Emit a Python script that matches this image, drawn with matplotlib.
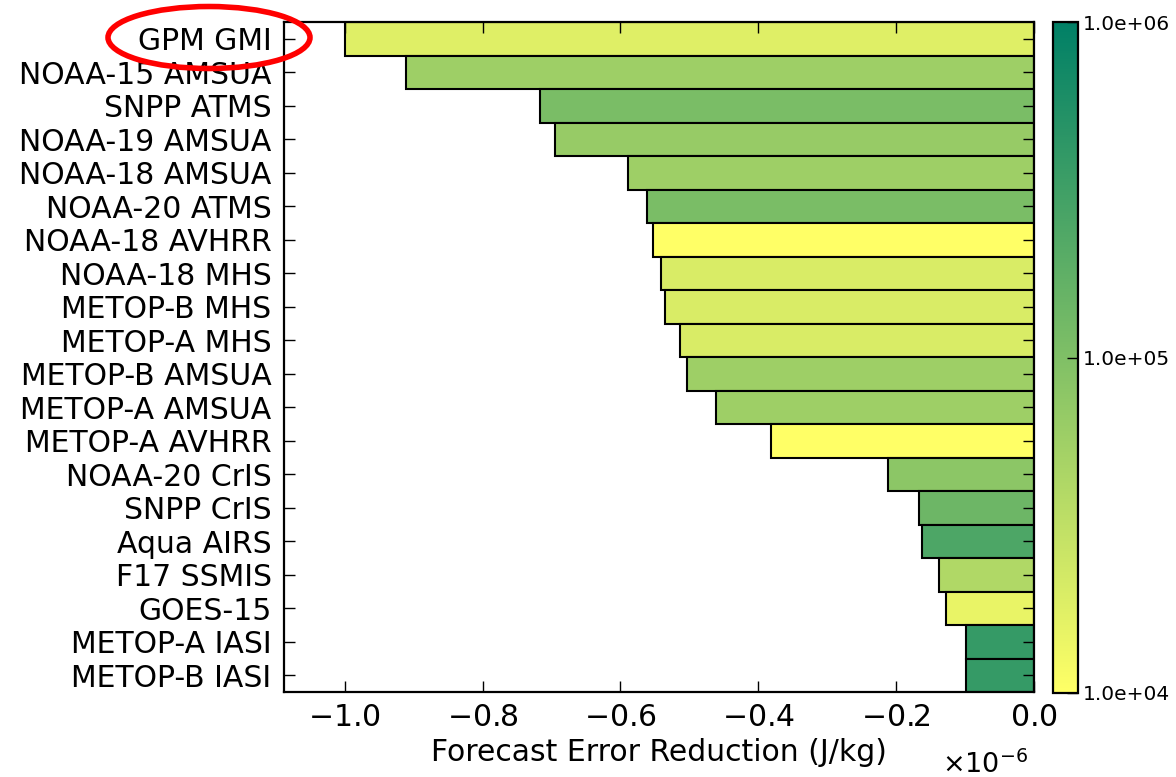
import numpy as np
import matplotlib
matplotlib.use('Agg')
import matplotlib.pyplot as plt
from matplotlib.colors import LogNorm
from matplotlib.patches import Ellipse
import matplotlib.cm as cm

# instruments, top to bottom
names = ['GPM GMI', 'NOAA-15 AMSUA', 'SNPP ATMS', 'NOAA-19 AMSUA', 'NOAA-18 AMSUA',
         'NOAA-20 ATMS', 'NOAA-18 AVHRR', 'NOAA-18 MHS', 'METOP-B MHS', 'METOP-A MHS',
         'METOP-B AMSUA', 'METOP-A AMSUA', 'METOP-A AVHRR', 'NOAA-20 CrIS', 'SNPP CrIS',
         'Aqua AIRS', 'F17 SSMIS', 'GOES-15', 'METOP-A IASI', 'METOP-B IASI']
# forecast error reduction, J/kg (x 1e-6)
fer = [-1.000, -0.911, -0.717, -0.695, -0.589,
       -0.562, -0.552, -0.541, -0.536, -0.514,
       -0.504, -0.462, -0.382, -0.212, -0.167,
       -0.163, -0.138, -0.128, -0.099, -0.099]
# number of observations assimilated (colour)
nobs = [1.8e4, 5.8e4, 1.1e5, 6.5e4, 5.8e4,
        1.1e5, 1.0e4, 2.0e4, 2.0e4, 2.0e4,
        5.8e4, 5.8e4, 1.0e4, 8.0e4, 1.4e5,
        2.5e5, 4.2e4, 1.5e4, 3.8e5, 3.8e5]

vals = np.array(fer) * 1e-6
norm = LogNorm(vmin=1e4, vmax=1e6)
cmap = plt.get_cmap('summer_r')

fig = plt.figure(figsize=(11.76, 7.77), dpi=100)
W, H = 1176., 777.
ax = fig.add_axes([284/W, 1-692/H, 750/W, 670/H])

y = np.arange(len(names))[::-1]
ax.barh(y, vals, height=1.0, align='center', color=cmap(norm(nobs)),
        edgecolor='black', linewidth=1.5)
ax.set_ylim(-0.5, len(names)-0.5)
ax.set_xlim(vals.min()*1.088, 0)
ax.set_yticks(y)
ax.set_yticklabels(names, fontsize=21.5)
ax.set_xticks(np.arange(-1.0, 0.01, 0.2)*1e-6)
ax.tick_params(axis='both', direction='in', top=True, right=True, length=8, width=1, labelsize=21.5)
ax.tick_params(axis='y', pad=9)
ax.tick_params(axis='x', pad=8)
for s in ax.spines.values():
    s.set_linewidth(1.6)
fmt = matplotlib.ticker.ScalarFormatter(useMathText=True)
ax.xaxis.set_major_formatter(fmt)
ax.set_xlabel('Forecast Error Reduction (J/kg)', fontsize=21.5, labelpad=4)

# offset text drawn a bit lower, as in the original
fig.canvas.draw()
off = fmt.get_offset()
ax.xaxis.get_offset_text().set_visible(False)
fig.text(1028/W, (777-773)/H, off, fontsize=19.5, ha='right', va='baseline')

# colorbar
cax = fig.add_axes([1053/W, 1-693/H, 25/W, 671/H])
sm = cm.ScalarMappable(norm=norm, cmap=cmap)
cb = fig.colorbar(sm, cax=cax, ticks=[1e4, 1e5, 1e6], format='%.1e')
cb.ax.minorticks_off()
cb.ax.tick_params(labelsize=14.5, direction='in', length=8, width=1)
cb.outline.set_linewidth(1.6)

# red highlight around GPM GMI
ell = Ellipse((209/W, 1-37.5/H), 202/W, 62/H, transform=fig.transFigure,
              fill=False, edgecolor='red', linewidth=4)
fig.add_artist(ell)

fig.savefig('out.png', dpi=100)
